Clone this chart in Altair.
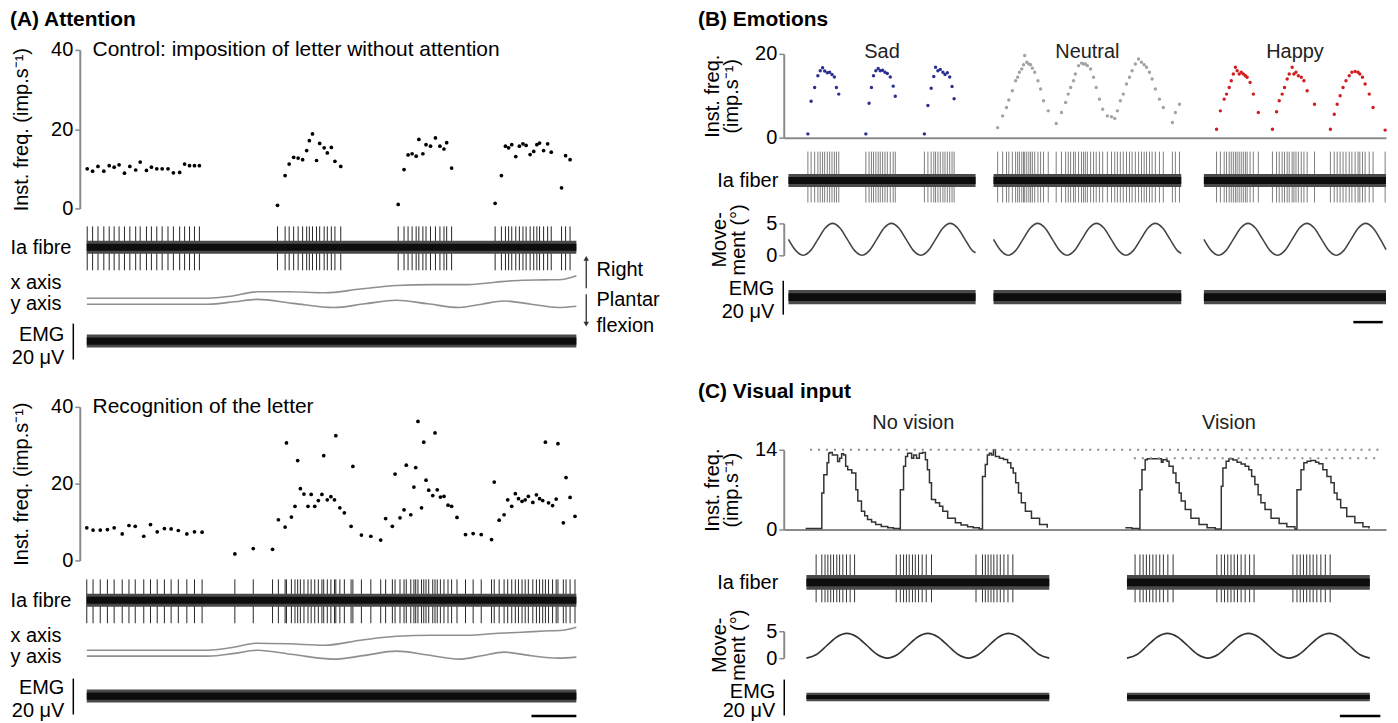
import altair as alt
import pandas as pd

FONT = "Liberation Sans, Arial, Helvetica, sans-serif"
FS = 20
AXC = "#8a8a8a"

# ======================= DATA =======================
# ---------- (A) Attention ----------
# Control: spike times (s) and instantaneous frequency (imp/s)
a1_spike_t = [0.01, 0.13, 0.25, 0.38, 0.50, 0.61, 0.72, 0.84, 0.96, 1.09, 1.19, 1.33, 1.44, 1.56, 1.68,
              1.81, 1.93, 2.07, 2.18, 2.29, 2.40, 2.51,
              4.25, 4.42, 4.51, 4.61, 4.71, 4.81, 4.90, 4.96, 5.03, 5.12, 5.19, 5.29, 5.36, 5.45, 5.53, 5.66,
              6.94, 7.07, 7.16, 7.25, 7.34, 7.40, 7.49, 7.56, 7.66, 7.77, 7.87, 7.96, 8.02, 8.13,
              9.10, 9.24, 9.33, 9.40, 9.47, 9.56, 9.64, 9.72, 9.79, 9.88, 9.96, 10.03, 10.09, 10.18, 10.27,
              10.35, 10.58, 10.67, 10.77]
a1_inst_f = [10.0, 9.4, 10.6, 9.4, 10.8, 10.4, 11.0, 8.9, 10.6, 9.7, 11.7, 9.6, 10.4, 10.0, 10.0,
             10.0, 9.0, 9.1, 11.2, 10.8, 10.8, 10.8,
             0.8, 8.3, 11.2, 12.9, 12.7, 12.3, 14.6, 17.1, 18.8, 12.1, 16.4, 15.3, 14.0, 15.4, 11.9, 10.6,
             1.0, 9.8, 13.5, 13.8, 13.2, 17.4, 13.8, 16.1, 15.7, 17.8, 15.7, 15.0, 16.6, 10.2,
             1.3, 8.3, 15.7, 15.3, 16.1, 13.1, 15.7, 16.3, 15.9, 13.6, 14.4, 16.1, 16.5, 14.6, 16.3,
             14.2, 5.2, 13.3, 12.3]
# Recognition of the letter
a2_spike_t = [0.00, 0.14, 0.30, 0.46, 0.61, 0.79, 0.94, 1.08, 1.27, 1.42, 1.57, 1.73, 1.88, 2.04, 2.23, 2.40, 2.57,
              3.30, 3.71, 4.14,
              4.27, 4.42, 4.45, 4.56, 4.64, 4.70, 4.76, 4.84, 4.93, 5.00, 5.08, 5.16, 5.24, 5.28, 5.36, 5.44,
              5.52, 5.55, 5.64, 5.74, 5.89, 5.93, 6.12, 6.33, 6.55,
              6.66, 6.81, 6.87, 6.98, 7.07, 7.12, 7.22, 7.29, 7.33, 7.38, 7.46, 7.51, 7.56, 7.62, 7.71, 7.76,
              7.81, 7.88, 7.96, 8.05, 8.13, 8.25,
              8.44, 8.61, 8.79, 9.02, 9.08, 9.19, 9.30, 9.38, 9.47, 9.55, 9.62, 9.70, 9.77, 9.84, 9.94, 10.02,
              10.09, 10.16, 10.22, 10.29, 10.38, 10.46, 10.50, 10.62, 10.68, 10.77, 10.88]
a2_inst_f = [8.5, 7.9, 7.9, 8.05, 8.5, 6.9, 9.1, 8.9, 6.3, 9.35, 7.45, 8.3, 8.2, 7.8, 6.9, 7.45, 7.35,
             1.7, 3.1, 2.9,
             10.6, 8.7, 30.6, 11.3, 14.1, 26.0, 18.7, 17.3, 14.1, 17.2, 14.1, 15.6, 17.2, 27.3, 15.8, 16.6,
             15.8, 32.5, 13.7, 12.4, 8.9, 24.5, 6.6, 6.3, 5.3,
             10.9, 8.9, 22.5, 11.1, 13.2, 24.8, 11.9, 19.1, 24.2, 36.2, 13.7, 30.8, 20.9, 18.3, 16.9, 33.2,
             18.4, 16.5, 16.7, 14.4, 14.1, 11.2,
             6.75, 7.0, 6.75, 5.45, 20.4, 10.5, 11.9, 15.8, 14.1, 17.4, 16.1, 15.4, 15.8, 16.7, 15.1, 17.1,
             16.1, 15.6, 30.8, 15.0, 14.3, 16.0, 30.4, 9.8, 21.6, 16.4, 11.5]
# foot position traces (deg, relative to start)
a_pos_x_t = [0, 2.7, 3.2, 3.8, 4.5, 5.3, 6.1, 6.9, 7.7, 8.5, 9.1, 9.7, 10.2, 10.6, 10.91]
a_pos_y_t = [0, 2.7, 3.3, 3.8, 4.6, 5.5, 6.2, 6.9, 7.6, 8.3, 8.8, 9.3, 9.9, 10.5, 10.91]
a1_xaxis_deg = [0, 0, 0.5, 1.6, 1.6, 1.35, 2.3, 3.2, 3.4, 3.4, 4.0, 4.5, 4.6, 4.7, 5.6]
a1_yaxis_deg = [0, 0, 0.6, 1.2, 0.2, -0.85, 0.1, 1.0, 0.1, -0.85, 0.0, 0.8, 0.0, -0.85, -0.5]
a2_xaxis_deg = [0, 0, 0.6, 1.75, 1.6, 1.25, 2.5, 3.5, 3.75, 3.75, 4.2, 4.5, 4.8, 5.0, 5.75]
a2_yaxis_deg = [0, 0, 0.7, 1.5, 0.4, -0.75, 0.2, 1.25, 0.3, -0.75, 0.1, 1.0, 0.1, -0.5, -0.25]
a_segments = [(0.0, 10.91)]
a_scalebar = (9.91, 10.91)

# ---------- (B) Emotions ----------
b_sad_t = [0.82, 0.93, 1.05, 1.16, 1.24, 1.32, 1.39, 1.48, 1.56, 1.64, 1.72, 1.79, 1.87,
           2.79, 2.90, 2.98, 3.05, 3.13, 3.21, 3.28, 3.36, 3.44, 3.52, 3.62, 3.72, 3.79,
           4.78, 4.90, 5.01, 5.10, 5.16, 5.24, 5.32, 5.41, 5.48, 5.56, 5.64, 5.72, 5.79]
b_sad_f = [0.9, 8.7, 12.0, 14.8, 16.0, 16.7, 15.9, 15.5, 15.6, 15.1, 14.5, 12.0, 10.4,
           0.9, 8.2, 12.0, 14.8, 16.0, 16.5, 16.0, 16.1, 15.6, 15.3, 14.5, 12.3, 9.9,
           0.9, 7.7, 11.8, 14.6, 16.8, 16.0, 16.3, 15.6, 15.1, 15.5, 14.5, 12.2, 9.3]
b_neu_t = [7.27, 7.44, 7.57, 7.65, 7.77, 7.88, 7.95, 8.01, 8.09, 8.15, 8.19, 8.26, 8.33, 8.39, 8.45,
           8.53, 8.64, 8.73, 8.83, 8.99, 9.26,
           9.44, 9.58, 9.67, 9.75, 9.85, 9.91, 10.02, 10.12, 10.19, 10.25, 10.32, 10.43, 10.53, 10.62,
           10.73, 10.84, 11.00, 11.14, 11.25,
           11.34, 11.44, 11.54, 11.65, 11.75, 11.84, 11.95, 12.06, 12.16, 12.25, 12.33, 12.43, 12.52,
           12.63, 12.77, 12.90, 13.21, 13.31, 13.45]
b_neu_f = [2.4, 5.2, 7.2, 9.0, 11.2, 13.6, 14.4, 15.6, 16.4, 17.4, 19.6, 18.0, 17.6, 17.4, 16.6,
           15.6, 13.6, 11.6, 8.8, 6.4, 3.4,
           6.0, 8.4, 10.4, 12.0, 13.6, 15.2, 17.2, 17.8, 17.6, 17.6, 17.2, 16.4, 14.4, 12.0,
           9.2, 6.8, 5.2, 5.0, 4.6,
           6.4, 8.8, 10.4, 12.8, 14.4, 16.0, 17.6, 18.8, 18.0, 17.4, 16.8, 15.6, 14.0,
           11.6, 9.2, 7.2, 3.6, 6.0, 8.0]
b_hap_t = [14.71, 14.84, 14.97, 15.05, 15.14, 15.21, 15.28, 15.35, 15.41, 15.48, 15.55, 15.62, 15.69,
           15.75, 15.85, 15.96, 16.13,
           16.61, 16.75, 16.84, 16.94, 17.02, 17.11, 17.18, 17.28, 17.34, 17.41, 17.49, 17.59, 17.68,
           17.79, 18.04,
           18.58, 18.71, 18.81, 18.91, 19.01, 19.11, 19.22, 19.31, 19.42, 19.52, 19.58, 19.67, 19.76,
           19.90, 20.03, 20.44]
b_hap_f = [2.0, 6.4, 9.2, 10.4, 12.0, 13.6, 15.2, 16.8, 16.0, 15.2, 15.6, 15.2, 14.8,
           14.4, 13.2, 10.4, 6.0,
           2.0, 6.2, 8.8, 10.4, 12.0, 14.0, 15.2, 16.8, 15.2, 15.6, 14.8, 14.4, 13.6,
           11.2, 8.0,
           2.0, 5.6, 8.0, 10.0, 12.0, 13.6, 14.8, 15.6, 15.8, 15.6, 15.2, 14.4, 12.8,
           10.4, 7.2, 1.8]
b_mov_sad_t = [0.16, 0.41, 0.66, 0.91, 1.16, 1.41, 1.66, 1.91, 2.16, 2.41, 2.66, 2.91, 3.16, 3.41,
               3.66, 3.91, 4.16, 4.41, 4.66, 4.91, 5.16, 5.41, 5.66, 5.91, 6.16, 6.41, 6.52]
b_mov_sad_deg = [2.5, 0.73, 0, 0.73, 2.5, 4.27, 5, 4.27, 2.5, 0.73, 0, 0.73, 2.5, 4.27,
                 5, 4.27, 2.5, 0.73, 0, 0.73, 2.5, 4.27, 5, 4.27, 2.5, 0.73, 0.4]
b_mov_neu_t = [7.13, 7.38, 7.63, 7.88, 8.13, 8.38, 8.63, 8.88, 9.13, 9.38, 9.63, 9.88, 10.13, 10.38,
               10.63, 10.88, 11.13, 11.38, 11.63, 11.88, 12.13, 12.38, 12.63, 12.88, 13.13, 13.38, 13.51]
b_mov_neu_deg = [2.5, 0.73, 0, 0.73, 2.5, 4.27, 5, 4.27, 2.5, 0.73, 0, 0.73, 2.5, 4.27,
                 5, 4.27, 2.5, 0.73, 0, 0.73, 2.5, 4.27, 5, 4.27, 2.5, 0.73, 0.3]
b_mov_hap_t = [14.28, 14.53, 14.78, 15.03, 15.28, 15.53, 15.78, 16.03, 16.28, 16.53, 16.78, 17.03,
               17.28, 17.53, 17.78, 18.03, 18.28, 18.53, 18.78, 19.03, 19.28, 19.53, 19.78, 20.03,
               20.28, 20.47]
b_mov_hap_deg = [2.5, 0.73, 0, 0.73, 2.5, 4.27, 5, 4.27, 2.5, 0.73, 0, 0.73,
                 2.5, 4.27, 5, 4.27, 2.5, 0.73, 0, 0.73, 2.5, 4.27, 5, 4.27, 2.5, 0.9]
b_segments = [(0.16, 6.52), (7.13, 13.51), (14.28, 20.47)]
b_scalebar = (19.36, 20.36)

# ---------- (C) Visual input ----------
c_nv_t = [0.54, 0.94, 0.94, 0.99, 1.07, 1.11, 1.14, 1.20, 1.28, 1.33, 1.38, 1.43, 1.48, 1.53, 1.58,
          1.68, 1.78, 1.83, 1.92, 2.00, 2.07, 2.17, 2.27, 2.41, 2.57, 2.71, 2.86,
          2.88, 2.88, 2.96, 3.01, 3.06, 3.16, 3.21, 3.28, 3.35, 3.43, 3.50, 3.55, 3.60, 3.65, 3.75,
          3.85, 3.93, 4.05, 4.24, 4.38, 4.54, 4.68, 4.83,
          4.91, 4.91, 4.98, 5.03, 5.08, 5.13, 5.18, 5.23, 5.33, 5.43, 5.53, 5.61, 5.67, 5.73, 5.80,
          5.87, 5.97, 6.12, 6.32, 6.51]
c_nv_f = [0.2, 0.2, 6.4, 9.6, 11.7, 13.4, 13.5, 13.1, 13.1, 11.95, 12.5, 13.3, 13.1, 11.1, 10.5,
          9.9, 7.0, 5.0, 3.2, 2.4, 1.75, 1.3, 0.9, 0.55, 0.3, 0.2, 0.1,
          0.1, 7.0, 11.1, 12.8, 13.4, 12.5, 13.1, 12.5, 13.4, 13.5, 12.25, 10.5, 8.2, 5.25, 4.7,
          4.1, 3.2, 2.0, 1.2, 0.8, 0.5, 0.3, 0.1,
          0.1, 9.3, 11.4, 13.1, 13.4, 13.1, 14.0, 12.8, 12.5, 12.3, 11.7, 10.8, 9.9, 8.2, 6.4,
          4.7, 3.2, 2.0, 0.9, 0.3]
c_v_t = [8.44, 8.60, 8.78, 8.80, 8.80, 8.85, 8.93, 8.98, 9.23, 9.33, 9.37, 9.47, 9.52, 9.62, 9.69,
         9.77, 9.82, 9.92, 10.06, 10.26, 10.46, 10.66,
         10.81, 10.81, 10.85, 10.93, 11.00, 11.10, 11.20, 11.30, 11.40, 11.49, 11.56, 11.64, 11.72,
         11.79, 11.89, 12.04, 12.24, 12.43, 12.63,
         12.68, 12.68, 12.78, 12.85, 12.93, 13.02, 13.14, 13.22, 13.32, 13.42, 13.52, 13.60, 13.67,
         13.76, 13.91, 14.11, 14.31, 14.46]
c_v_f = [0.3, 0.2, 0.1, 0.1, 7.0, 10.5, 12.25, 12.4, 12.4, 11.8, 12.25, 12.0, 11.1, 9.9, 8.2,
         6.4, 5.0, 3.5, 2.0, 0.9, 0.3, 0.1,
         0.1, 7.6, 10.8, 12.0, 12.4, 12.2, 11.8, 11.5, 11.1, 10.5, 9.3, 7.9, 6.1,
         4.7, 3.5, 2.0, 1.05, 0.5, 0.1,
         0.1, 7.0, 10.5, 11.7, 12.0, 12.1, 11.8, 11.55, 10.5, 9.3, 8.2, 6.4, 5.25,
         3.8, 2.3, 1.2, 0.5, 0.2]
c_peak_levels = [14.0, 12.5]
c_peak_from = [0.65, 8.65]
c_peak_to = [14.73, 14.73]
c_spike_t = [0.80, 0.94, 1.02, 1.09, 1.16, 1.23, 1.31, 1.38, 1.46, 1.55, 1.64, 1.75,
             2.78, 2.88, 2.96, 3.03, 3.10, 3.18, 3.25, 3.33, 3.42, 3.52, 3.65,
             4.75, 4.91, 4.98, 5.05, 5.12, 5.19, 5.27, 5.35, 5.44, 5.54, 5.66,
             8.68, 8.80, 8.88, 8.96, 9.04, 9.12, 9.20, 9.29, 9.38, 9.49, 9.62,
             10.70, 10.81, 10.89, 10.97, 11.05, 11.13, 11.21, 11.30, 11.40, 11.51, 11.62,
             12.58, 12.68, 12.76, 12.84, 12.92, 13.00, 13.08, 13.17, 13.27, 13.38, 13.50]
c_mov_nv_t = [0.56, 0.81, 1.06, 1.31, 1.56, 1.81, 2.06, 2.31, 2.56, 2.81, 3.06, 3.31, 3.56, 3.81,
              4.06, 4.31, 4.56, 4.81, 5.06, 5.31, 5.56, 5.81, 6.06, 6.31, 6.56]
c_mov_v_t = [8.48, 8.73, 8.98, 9.23, 9.48, 9.73, 9.98, 10.23, 10.48, 10.73, 10.98, 11.23, 11.48,
             11.73, 11.98, 12.23, 12.48, 12.73, 12.98, 13.23, 13.48, 13.73, 13.98, 14.23, 14.48]
c_mov_deg = [0, 0.67, 2.3, 3.93, 4.6, 3.93, 2.3, 0.67, 0, 0.67, 2.3, 3.93, 4.6, 3.93, 2.3, 0.67,
             0, 0.67, 2.3, 3.93, 4.6, 3.93, 2.3, 0.67, 0]
c_segments = [(0.56, 6.56), (8.48, 14.48)]
c_scalebar = (13.74, 14.74)

# noise envelopes (outer, core) in microvolts
a_ia_noise, b_ia_noise, c_ia_noise = (13, 7), (13, 7), (15, 8)
a_emg_noise, b_emg_noise, c_emg_noise = (3.6, 2.0), (4.2, 2.3), (2.4, 1.1)

# time spans of the sweeps (s)
A_T, B_T, C_T = 10.91, 20.47, 14.88
WA, WB = 491, 604

# ======================= HELPERS =======================
def xs(T):
    return alt.Scale(domain=[0, T], nice=False, zero=False)


def X(field, T, axis=None):
    return alt.X(field, type="quantitative", scale=xs(T), axis=axis)


def spacer(W, h):
    return alt.Chart(pd.DataFrame({"v": [0.0]})).mark_point(opacity=0).encode(
        x=alt.X("v:Q", axis=None), y=alt.Y("v:Q", axis=None)).properties(width=W, height=h)


def label_axis(title, tx, ty, align="left", baseline="middle", lh=None, domain=False, offset=0):
    kw = dict(domain=domain, ticks=False, labels=False, grid=False, title=title, titleAngle=0,
              titleAlign=align, titleBaseline=baseline, titleX=tx, titleY=ty, titleFontSize=FS,
              titleFontWeight="normal", titleFont=FONT, titleColor="black", offset=offset)
    if lh is not None:
        kw["titleLineHeight"] = lh
    if domain:
        kw.update(domainColor="black", domainWidth=1.5)
    return alt.Axis(**kw)


def value_axis(values, title, tx, ty, offset=0, lh=None):
    kw = dict(values=values, offset=offset, tickSize=5, tickWidth=1.5, tickColor=AXC,
              domainColor=AXC, domainWidth=2, labelFontSize=FS, labelFont=FONT, labelColor="black",
              labelPadding=2, grid=False, title=title, titleAngle=270, titleAlign="center",
              titleBaseline="top", titleX=tx, titleY=ty, titleFontSize=FS, titleFontWeight="normal",
              titleFont=FONT, titleColor="black")
    if lh is not None:
        kw["titleLineHeight"] = lh
    return alt.Axis(**kw)


def panel_title(text, dx, dy):
    return alt.Chart(pd.DataFrame({"s": [text]})).mark_text(
        align="left", baseline="alphabetic", fontSize=21, fontWeight="bold", font=FONT,
        color="black").encode(x=alt.value(dx), y=alt.value(dy), text="s:N")


def seg_df(segs, lo, hi):
    return pd.DataFrame({"t0": [s[0] for s in segs], "t1": [s[1] for s in segs],
                         "lo": [lo] * len(segs), "hi": [hi] * len(segs)})


def bands(T, segs, env, ys, ax):
    outer, core = env
    return [alt.Chart(seg_df(segs, -outer, outer)).mark_rect(color="#4a4a4a").encode(
                x=X("t0", T), x2="t1:Q", y=alt.Y("lo:Q", scale=ys, axis=ax), y2="hi:Q"),
            alt.Chart(seg_df(segs, -core, core)).mark_rect(color="#0d0d0d").encode(
                x=X("t0", T), x2="t1:Q", y=alt.Y("lo:Q", scale=ys, axis=ax), y2="hi:Q")]


def ia_row(T, W, h, base, segs, spike_t, up, down, env, spike_color, label, lx, lalign):
    ppu = 0.5  # px per microvolt
    ys = alt.Scale(domain=[-(h - base) / ppu, base / ppu], nice=False, zero=False)
    ax = label_axis(label, lx, base, align=lalign)
    sp = pd.DataFrame({"t": spike_t, "lo": [-down] * len(spike_t), "hi": [up] * len(spike_t)})
    spikes = alt.Chart(sp).mark_rule(color=spike_color, strokeWidth=1).encode(
        x=X("t", T), y=alt.Y("lo:Q", scale=ys, axis=ax), y2="hi:Q")
    return alt.layer(spikes, *bands(T, segs, env, ys, ax)).properties(width=W, height=h)


def emg_row(T, W, h, segs, env, tx, ty, lh, offset, bar=None, bar_y=None):
    ys = alt.Scale(domain=[-10, 10], nice=False, zero=False)
    ax = label_axis(["EMG", "20 μV"], tx, ty, align="right", baseline="top", lh=lh, domain=True,
                    offset=offset)
    layers = bands(T, segs, env, ys, ax)
    if bar is not None:
        layers.append(alt.Chart(pd.DataFrame({"t0": [bar[0]], "t1": [bar[1]]})).mark_rule(
            color="black", strokeWidth=2.5).encode(x=X("t0", T), x2="t1:Q", y=alt.value(bar_y)))
    return alt.layer(*layers).properties(width=W, height=h)


def line_df(t, v, seg):
    return pd.DataFrame({"t": t, "v": v, "seg": [seg] * len(t), "i": list(range(len(t)))})


# ======================= PANEL A =======================
def freq_row_A(t, f, h, subtitle, title):
    ys = alt.Scale(domain=[0, 40], nice=False, zero=False)
    ax = value_axis([0, 20, 40], "Inst. freq. (imp.s⁻¹)", -68, h / 2, offset=7)
    pts = alt.Chart(pd.DataFrame({"t": t, "f": f})).mark_circle(size=14, color="black", opacity=1).encode(
        x=X("t", A_T), y=alt.Y("f:Q", scale=ys, axis=ax))
    txt = alt.Chart(pd.DataFrame({"t": [0.13], "f": [40.0], "s": [subtitle]})).mark_text(
        align="left", baseline="middle", fontSize=FS + 1, font=FONT, color="black").encode(
        x=X("t", A_T), y=alt.Y("f:Q", scale=ys, axis=ax), text="s:N")
    layers = [pts, txt]
    if title:
        layers.append(panel_title(title, -77, -24))
    return alt.layer(*layers).properties(width=WA, height=h)


def xy_row(xv, yv, h, xoff, yoff, arrows):
    ys = alt.Scale(domain=[0, h / 4.0], nice=False, zero=False)
    d = pd.concat([line_df(a_pos_x_t, [v + xoff for v in xv], "x axis"),
                   line_df(a_pos_y_t, [v + yoff for v in yv], "y axis")])
    lines = alt.Chart(d).mark_line(color="#8f8f8f", strokeWidth=1.6, interpolate="monotone").encode(
        x=X("t", A_T),
        y=alt.Y("v:Q", scale=ys, axis=label_axis(["x axis", "y axis"], -77, 0, align="left",
                                                  baseline="top", lh=21)),
        detail="seg:N", order="i:Q")
    layers = [lines]
    if arrows:
        a = pd.DataFrame({"t": [11.13]})
        lab = pd.DataFrame({"t": [11.36]})
        layers += [
            alt.Chart(a).mark_rule(color="#333", strokeWidth=1.3).encode(x=X("t", A_T), y=alt.value(-13), y2=alt.value(16)),
            alt.Chart(a).mark_rule(color="#333", strokeWidth=1.3).encode(x=X("t", A_T), y=alt.value(22), y2=alt.value(51)),
            alt.Chart(a).mark_point(shape="triangle-up", filled=True, size=30, color="#333", opacity=1).encode(
                x=X("t", A_T), y=alt.value(-14)),
            alt.Chart(a).mark_point(shape="triangle-down", filled=True, size=30, color="#333", opacity=1).encode(
                x=X("t", A_T), y=alt.value(52)),
            alt.Chart(lab).mark_text(align="left", baseline="middle", fontSize=FS, font=FONT).encode(
                x=X("t", A_T), y=alt.value(-2), text=alt.value("Right")),
            alt.Chart(lab).mark_text(align="left", baseline="middle", fontSize=FS, font=FONT).encode(
                x=X("t", A_T), y=alt.value(28), text=alt.value("Plantar")),
            alt.Chart(lab).mark_text(align="left", baseline="middle", fontSize=FS, font=FONT).encode(
                x=X("t", A_T), y=alt.value(54), text=alt.value("flexion")),
        ]
    return alt.layer(*layers).properties(width=WA, height=h)


colA = alt.vconcat(
    freq_row_A(a1_spike_t, a1_inst_f, 159, "Control: imposition of letter without attention", "(A) Attention"),
    ia_row(A_T, WA, 64, 39, a_segments, a1_spike_t, 42, 46, a_ia_noise, "#262626", "Ia fibre", -77, "left"),
    xy_row(a1_xaxis_deg, a1_yaxis_deg, 51, 6.25, 4.75, True),
    emg_row(A_T, WA, 36, a_segments, a_emg_noise, -9, 1, 24, 14),
    spacer(WA, 48),
    freq_row_A(a2_spike_t, a2_inst_f, 154, "Recognition of the letter", None),
    ia_row(A_T, WA, 65, 40, a_segments, a2_spike_t, 42, 46, a_ia_noise, "#262626", "Ia fibre", -77, "left"),
    xy_row(a2_xaxis_deg, a2_yaxis_deg, 53, 7.0, 5.5, False),
    emg_row(A_T, WA, 36, a_segments, a_emg_noise, -9, -1, 24, 14, bar=a_scalebar, bar_y=38),
    spacing=0, bounds="flush")

# ======================= PANEL B =======================
SAD, NEU, HAP = "#2b2f8f", "#a3a3a3", "#d01c1f"
b_df = pd.concat([pd.DataFrame({"t": b_sad_t, "f": b_sad_f, "emotion": "Sad"}),
                  pd.DataFrame({"t": b_neu_t, "f": b_neu_f, "emotion": "Neutral"}),
                  pd.DataFrame({"t": b_hap_t, "f": b_hap_f, "emotion": "Happy"})])
ysB = alt.Scale(domain=[0, 20], nice=False, zero=False)
base_x_axis = alt.Axis(domain=True, domainColor=AXC, domainWidth=2, ticks=False, labels=False,
                       grid=False, title=None)
axB = value_axis([0, 20], ["Inst. freq.", "(imp.s⁻¹)"], -81, 42, lh=19)
b_lab = pd.DataFrame({"t": [(s[0] + s[1]) / 2 for s in b_segments], "f": [19.0] * 3,
                      "s": ["Sad", "Neutral", "Happy"]})
B_freq = alt.layer(
    alt.Chart(b_df).mark_circle(size=12, opacity=1).encode(
        x=X("t", B_T, axis=base_x_axis),
        y=alt.Y("f:Q", scale=ysB, axis=axB),
        color=alt.Color("emotion:N", scale=alt.Scale(domain=["Sad", "Neutral", "Happy"],
                                                     range=[SAD, NEU, HAP]), legend=None)),
    alt.Chart(b_lab).mark_text(align="center", baseline="alphabetic", fontSize=FS, font=FONT,
                               color="#222").encode(
        x=X("t", B_T, axis=base_x_axis), y=alt.Y("f:Q", scale=ysB, axis=axB), text="s:N"),
    panel_title("(B) Emotions", -86, -28),
).properties(width=WB, height=84)

b_spikes = b_sad_t + b_neu_t + b_hap_t
B_ia = ia_row(B_T, WB, 86, 43, b_segments, b_spikes, 58, 44, b_ia_noise, "#7d7d7d", "Ia fiber", -6, "right")

ysM = alt.Scale(domain=[0, 5], nice=False, zero=False)
b_mov = pd.concat([line_df(b_mov_sad_t, b_mov_sad_deg, "sad"),
                   line_df(b_mov_neu_t, b_mov_neu_deg, "neutral"),
                   line_df(b_mov_hap_t, b_mov_hap_deg, "happy")])
B_mov = alt.Chart(b_mov).mark_line(color="#444", strokeWidth=1.6, interpolate="monotone").encode(
    x=X("t", B_T),
    y=alt.Y("v:Q", scale=ysM, axis=value_axis([0, 5], ["Move-", "ment (°)"], -74, 16, lh=19)),
    detail="seg:N", order="i:Q").properties(width=WB, height=32)

B_emg = emg_row(B_T, WB, 34, b_segments, b_emg_noise, -9, -2, 23, 1, bar=b_scalebar, bar_y=42)

# ======================= PANEL C =======================
ysC = alt.Scale(domain=[0, 14], nice=False, zero=False)
axC = value_axis([0, 14], ["Inst. freq.", "(imp.s⁻¹)"], -81, 40, lh=19)
c_df = pd.concat([line_df(c_nv_t, c_nv_f, "no vision"), line_df(c_v_t, c_v_f, "vision")])
c_peaks = pd.DataFrame({"f": c_peak_levels, "t0": c_peak_from, "t1": c_peak_to})
c_lab = pd.DataFrame({"t": [3.2, 11.0], "f": [18.7, 18.7], "s": ["No vision", "Vision"]})
C_freq = alt.layer(
    alt.Chart(c_df).mark_line(color="#333", strokeWidth=1.5, interpolate="step-after").encode(
        x=X("t", C_T, axis=base_x_axis), y=alt.Y("v:Q", scale=ysC, axis=axC),
        detail="seg:N", order="i:Q"),
    alt.Chart(c_peaks).mark_rule(color="#8a8a8a", strokeWidth=2, strokeDash=[2, 6]).encode(
        x=X("t0", C_T, axis=base_x_axis), x2="t1:Q", y=alt.Y("f:Q", scale=ysC, axis=axC)),
    alt.Chart(c_lab).mark_text(align="center", baseline="middle", fontSize=FS, font=FONT,
                               color="#222").encode(
        x=X("t", C_T, axis=base_x_axis), y=alt.Y("f:Q", scale=ysC, axis=axC), text="s:N"),
    panel_title("(C) Visual input", -86, -52),
).properties(width=WB, height=80)

C_ia = ia_row(C_T, WB, 102, 53, c_segments, c_spike_t, 56, 40, c_ia_noise, "#333", "Ia fiber", -6, "right")

c_mov = pd.concat([line_df(c_mov_nv_t, c_mov_deg, "no vision"), line_df(c_mov_v_t, c_mov_deg, "vision")])
C_mov = alt.Chart(c_mov).mark_line(color="#333", strokeWidth=1.6, interpolate="monotone").encode(
    x=X("t", C_T),
    y=alt.Y("v:Q", scale=ysM, axis=value_axis([0, 5], ["Move-", "ment (°)"], -74, 13.5, lh=19)),
    detail="seg:N", order="i:Q").properties(width=WB, height=27)

C_emg = emg_row(C_T, WB, 36, c_segments, c_emg_noise, -9, 2, 20, 0, bar=c_scalebar, bar_y=37)

colR = alt.vconcat(
    spacer(WB, 4), B_freq, B_ia, B_mov, spacer(WB, 25), B_emg, spacer(WB, 136),
    C_freq, C_ia, C_mov, spacer(WB, 21), C_emg,
    spacing=0, bounds="flush")

chart = alt.hconcat(colA, colR, spacing=699, bounds="flush").properties(
    padding={"left": 2, "top": 0, "right": 0, "bottom": 0}
).configure(font=FONT, view=alt.ViewConfig(stroke=None))

chart.save("out.html", embed_options={"renderer": "svg", "actions": False})
